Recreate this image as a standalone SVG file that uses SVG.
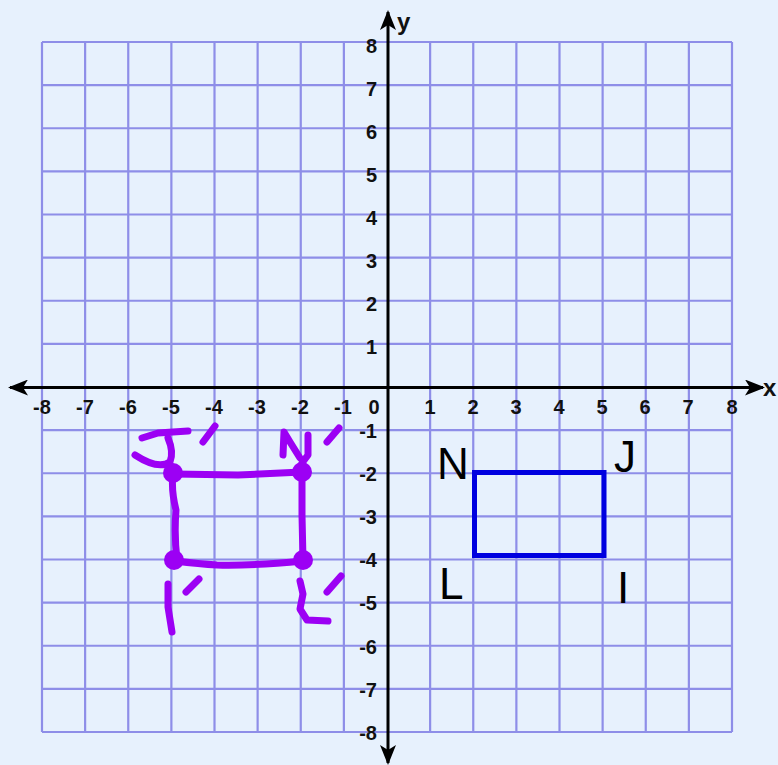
<svg xmlns="http://www.w3.org/2000/svg" width="778" height="765" viewBox="0 0 778 765">
<style>
.grid{stroke:#8e8ee8;stroke-width:2.2;fill:none}
.axis{stroke:#000;stroke-width:3;fill:none}
.lbl{font-family:"Liberation Sans",Arial,sans-serif;font-weight:bold;font-size:20px;fill:#111}
.xl{text-anchor:middle}
.yl{text-anchor:end}
.ax{font-size:24px}
.big{font-family:"Liberation Sans",Arial,sans-serif;font-size:44px;fill:#000}
.pen{stroke:#9c00f4;stroke-width:7;fill:none;stroke-linecap:round;stroke-linejoin:round}
.dot{fill:#9c00f4}
</style>
<defs>
<marker id="ah" viewBox="0 0 20 16" refX="18" refY="8" markerWidth="20" markerHeight="16" markerUnits="userSpaceOnUse" orient="auto-start-reverse">
<path d="M0,0 L20,8 L0,16 L5,8 Z" fill="#000"/>
</marker>
</defs>
<rect width="778" height="765" fill="#e7f1fd"/>
<g id="grid">
<path class="grid" d="M42,42V732M85.125,42V732M128.25,42V732M171.375,42V732M214.5,42V732M257.625,42V732M300.75,42V732M343.875,42V732M430.125,42V732M473.25,42V732M516.375,42V732M559.5,42V732M602.625,42V732M645.75,42V732M688.875,42V732M732,42V732"/>
<path class="grid" d="M42,42H732M42,85.125H732M42,128.25H732M42,171.375H732M42,214.5H732M42,257.625H732M42,300.75H732M42,343.875H732M42,430.125H732M42,473.25H732M42,516.375H732M42,559.5H732M42,602.625H732M42,645.75H732M42,688.875H732M42,732H732"/>
</g>
<g id="connectors">
<line class="axis" x1="10" y1="387.5" x2="763" y2="387.5" marker-start="url(#ah)" marker-end="url(#ah)"/>
<line class="axis" x1="388" y1="12" x2="388" y2="763" marker-start="url(#ah)" marker-end="url(#ah)"/>
</g>
<g id="axis-labels">
<text class="lbl ax" x="397" y="30">y</text>
<text class="lbl ax" x="763" y="396">x</text>
<text class="lbl xl" x="42" y="414">-8</text>
<text class="lbl xl" x="85" y="414">-7</text>
<text class="lbl xl" x="128" y="414">-6</text>
<text class="lbl xl" x="171" y="414">-5</text>
<text class="lbl xl" x="214" y="414">-4</text>
<text class="lbl xl" x="257" y="414">-3</text>
<text class="lbl xl" x="300" y="414">-2</text>
<text class="lbl xl" x="343" y="414">-1</text>
<text class="lbl xl" x="374" y="414">0</text>
<text class="lbl xl" x="430" y="414">1</text>
<text class="lbl xl" x="473" y="414">2</text>
<text class="lbl xl" x="516" y="414">3</text>
<text class="lbl xl" x="559" y="414">4</text>
<text class="lbl xl" x="602" y="414">5</text>
<text class="lbl xl" x="645" y="414">6</text>
<text class="lbl xl" x="688" y="414">7</text>
<text class="lbl xl" x="732" y="414">8</text>
<text class="lbl yl" x="377" y="53">8</text>
<text class="lbl yl" x="377" y="96">7</text>
<text class="lbl yl" x="377" y="139">6</text>
<text class="lbl yl" x="377" y="182">5</text>
<text class="lbl yl" x="377" y="225">4</text>
<text class="lbl yl" x="377" y="268">3</text>
<text class="lbl yl" x="377" y="311">2</text>
<text class="lbl yl" x="377" y="354">1</text>
<text class="lbl yl" x="377" y="438">-1</text>
<text class="lbl yl" x="377" y="481">-2</text>
<text class="lbl yl" x="377" y="524">-3</text>
<text class="lbl yl" x="377" y="567">-4</text>
<text class="lbl yl" x="377" y="610">-5</text>
<text class="lbl yl" x="377" y="654">-6</text>
<text class="lbl yl" x="377" y="697">-7</text>
<text class="lbl yl" x="377" y="740">-8</text>
</g>
<g id="rectangle-NJIL">
<rect x="474.5" y="472.5" width="129.5" height="83" fill="none" stroke="#0000e0" stroke-width="5"/>
<text class="big" x="437" y="479">N</text>
<text class="big" x="614" y="472">J</text>
<text class="big" x="439" y="599">L</text>
<text class="big" x="617" y="603">I</text>
</g>
<g id="image-figure">
<path class="pen" d="M174,474 L238,475 L302,472"/>
<path class="pen" d="M173,474 Q171,490 176,510 Q174,535 177,560"/>
<path class="pen" d="M302,472 L302,515 L303,560"/>
<path class="pen" d="M175,561 Q200,564 217,565 Q250,566 303,561"/>
<circle class="dot" cx="173" cy="473" r="10"/>
<circle class="dot" cx="302" cy="472" r="10"/>
<circle class="dot" cx="174" cy="560" r="10"/>
<circle class="dot" cx="303" cy="560" r="10"/>
<path class="pen" d="M142,438 L158,433 L188,431"/>
<path class="pen" d="M168,438 Q174,452 170,462 Q158,470 135,455"/>
<path class="pen" d="M203,442 L215,426"/>
<path class="pen" d="M283,455 L284,432 L290,442 L300,458"/>
<path class="pen" d="M308,435 L308,455 L302,463"/>
<path class="pen" d="M327,442 L339,428"/>
<path class="pen" d="M168,584 L168,607 L172,632"/>
<path class="pen" d="M186,592 L199,579"/>
<path class="pen" d="M300,581 L303,594 L300,609 L307,620 L328,621"/>
<path class="pen" d="M327,592 L341,576"/>
</g>
</svg>
